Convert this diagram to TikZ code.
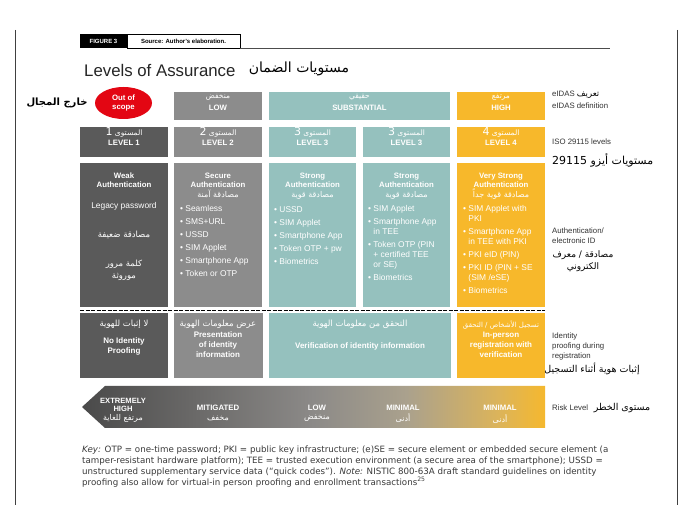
\documentclass[tikz,border=0pt]{standalone}
\usepackage{fontspec}
\setmainfont{Liberation Sans}
\newfontfamily\arf[Script=Arabic]{DejaVu Sans}
\newfontfamily\keyf{DejaVu Sans}
\TeXXeTstate=1
\usetikzlibrary{shapes.geometric}
\newcommand{\artx}[2][8]{{\arf\mdseries\fontsize{#1}{#1}\selectfont\beginR #2\endR}}
\newcommand{\artb}[2][8]{{\arf\bfseries\fontsize{#1}{#1}\selectfont\beginR #2\endR}}
\definecolor{cdark}{HTML}{5A5A5A}
\definecolor{cmid}{HTML}{8C8C8C}
\definecolor{cteal}{HTML}{95C1BE}
\definecolor{cgold}{HTML}{F7B82B}
\definecolor{cred}{HTML}{E30613}
\definecolor{labc}{HTML}{333333}
\definecolor{keyc}{HTML}{3A3A3A}
\definecolor{arl}{HTML}{4A4A4A}
\definecolor{arm}{HTML}{8C8A88}
\definecolor{art}{HTML}{AAA18D}
\definecolor{arg}{HTML}{DCB45A}
\definecolor{arr}{HTML}{F5B82E}
\pgfdeclarehorizontalshading{riskshade}{100bp}{color(0bp)=(arl); color(25bp)=(arl); color(50bp)=(arm); color(60bp)=(art); color(70bp)=(arg); color(75bp)=(arr); color(100bp)=(arr)}
\begin{document}
\begin{tikzpicture}[x=1pt,y=-1pt,
  cell/.style={anchor=north west, inner sep=0pt, outer sep=0pt, draw=none},
  wb/.style={text=white, font=\bfseries\fontsize{7.8}{9}\selectfont, align=center, inner sep=0pt},
  wh/.style={text=white, font=\bfseries\fontsize{7.8}{9}\selectfont, align=center, inner sep=0pt, anchor=north},
  wr/.style={text=white, font=\fontsize{8.4}{9.8}\selectfont, align=left, inner sep=0pt, anchor=north west},
  wa/.style={text=white, inner sep=0pt},
  lab/.style={text=labc, font=\fontsize{7.8}{9.5}\selectfont, align=left, inner sep=0pt, anchor=west},
  ara/.style={text=black, inner sep=0pt},
  border/.style={draw=black!75, line width=1pt}
]
\useasboundingbox (0,0) rectangle (689,505);
\fill[white] (0,0) rectangle (689,505);

% page border lines
\coordinate (bl1) at (15,30); \coordinate (bl2) at (15,505);
\coordinate (br1) at (677,30); \coordinate (br2) at (677,505);
\draw[border] (bl1) -- (bl2);
\draw[border] (br1) -- (br2);

% figure header
\node[cell, fill=black, minimum width=47pt, minimum height=14pt] (fig) at (80,34) {};
\node[text=white, font=\bfseries\fontsize{6}{7}\selectfont, inner sep=0pt] (figt) at (fig.center) {FIGURE 3};
\node[cell, draw=black, line width=0.6pt, fill=white, minimum width=113pt, minimum height=14pt] (src) at (127,34) {};
\node[text=black, font=\bfseries\fontsize{6}{7}\selectfont, inner sep=0pt] (srct) at (src.center) {Source: Author's elaboration.};
\coordinate (hl1) at (240,48.5); \coordinate (hl2) at (610,48.5);
\draw[black!70, line width=0.8pt] (hl1) -- (hl2);

% title
\node[anchor=west, inner sep=0pt, font=\fontsize{16.8}{18}\selectfont, text=black!85] (title) at (84,70) {Levels of Assurance};
\node[ara] (titlea) at (299,69) {\artx[14]{مستويات الضمان}};

% row 1: eIDAS
\node[ellipse, fill=cred, minimum width=57pt, minimum height=32pt, inner sep=0pt] (oos) at (123.5,103) {};
\node[wb] (oost) at (oos.center) {Out of\\scope};
\node[ara] (oosa) at (57,103) {\artb[10]{خارج المجال}};
\node[cell, fill=cmid, minimum width=88pt, minimum height=28pt] (low) at (174,92) {};
\node[cell, fill=cteal, minimum width=181pt, minimum height=28pt] (sub) at (269,92) {};
\node[cell, fill=cgold, minimum width=88pt, minimum height=28pt] (high) at (457,92) {};
\node[wa] (lowa) at (218,97) {\artx[7.5]{منخفض}};
\node[wb] (lowt) at (218,107.5) {LOW};
\node[wa] (suba) at (359.5,97) {\artx[7.5]{حقيقي}};
\node[wb] (subt) at (359.5,107.5) {SUBSTANTIAL};
\node[wa] (higha) at (501,97) {\artx[7.5]{مرتفع}};
\node[wb] (hight) at (501,107.5) {HIGH};

% row 2: ISO levels
\node[cell, fill=cdark, minimum width=88pt, minimum height=30pt] (l1) at (80,127) {};
\node[cell, fill=cmid, minimum width=88pt, minimum height=30pt] (l2) at (174,127) {};
\node[cell, fill=cteal, minimum width=87pt, minimum height=30pt] (l3a) at (269,127) {};
\node[cell, fill=cteal, minimum width=87pt, minimum height=30pt] (l3b) at (363,127) {};
\node[cell, fill=cgold, minimum width=88pt, minimum height=30pt] (l4) at (457,127) {};
\node[wa] (l1a) at (124,132.5) {\artx[7.5]{المستوى {\fontsize{11}{11}\selectfont 1}}};
\node[wb] (l1t) at (124,142.5) {LEVEL 1};
\node[wa] (l2a) at (218,132.5) {\artx[7.5]{المستوى {\fontsize{11}{11}\selectfont 2}}};
\node[wb] (l2t) at (218,142.5) {LEVEL 2};
\node[wa] (l3aa) at (312.5,132.5) {\artx[7.5]{المستوى {\fontsize{11}{11}\selectfont 3}}};
\node[wb] (l3at) at (312.5,142.5) {LEVEL 3};
\node[wa] (l3ba) at (406.5,132.5) {\artx[7.5]{المستوى {\fontsize{11}{11}\selectfont 3}}};
\node[wb] (l3bt) at (406.5,142.5) {LEVEL 3};
\node[wa] (l4a) at (501,132.5) {\artx[7.5]{المستوى {\fontsize{11}{11}\selectfont 4}}};
\node[wb] (l4t) at (501,142.5) {LEVEL 4};

% row 3: authentication
\node[cell, fill=cdark, minimum width=88pt, minimum height=144pt] (a1) at (80,163) {};
\node[cell, fill=cmid, minimum width=88pt, minimum height=144pt] (a2) at (174,163) {};
\node[cell, fill=cteal, minimum width=87pt, minimum height=144pt] (a3) at (269,163) {};
\node[cell, fill=cteal, minimum width=87pt, minimum height=144pt] (a4) at (363,163) {};
\node[cell, fill=cgold, minimum width=88pt, minimum height=144pt] (a5) at (457,163) {};

\node[wh] (a1h) at (124,172.5) {Weak\\Authentication};
\node[wa, font=\fontsize{8.4}{9.8}\selectfont] (a1t) at (124,206) {Legacy password};
\node[wa] (a1ar) at (124,235) {\artx[8.5]{مصادقة ضعيفة}};
\node[wa] (a1ar2) at (124,264) {\artx[8.5]{كلمة مرور}};
\node[wa] (a1ar3) at (124,277) {\artx[8.5]{موروثة}};

\node[wh] (a2h) at (218,172.5) {Secure\\Authentication};
\node[wa] (a2ar) at (218,194) {\artx[8]{مصادقة آمنة}};
\node[wr] (a2b) at (180,205.5) {• Seamless\\[3.2pt]• SMS+URL\\[3.2pt]• USSD\\[3.2pt]• SIM Applet\\[3.2pt]• Smartphone App\\[3.2pt]• Token or OTP};

\node[wh] (a3h) at (312.5,172.5) {Strong\\Authentication};
\node[wa] (a3ar) at (312.5,195) {\artx[8]{مصادقة قوية}};
\node[wr] (a3b) at (274,206.5) {• USSD\\[3.2pt]• SIM Applet\\[3.2pt]• Smartphone App\\[3.2pt]• Token OTP + pw\\[3.2pt]• Biometrics};

\node[wh] (a4h) at (406.5,172.5) {Strong\\Authentication};
\node[wa] (a4ar) at (406.5,195) {\artx[8]{مصادقة قوية}};
\node[wr] (a4b) at (368,205.5) {• SIM Applet\\[3.2pt]• Smartphone App\\\phantom{• }in TEE\\[3.2pt]• Token OTP (PIN\\\phantom{• }+ certified TEE\\\phantom{• }or SE)\\[3.2pt]• Biometrics};

\node[wh] (a5h) at (501,172.5) {Very Strong\\Authentication};
\node[wa] (a5ar) at (501,194.5) {\artx[8]{مصادقة قوية جداً}};
\node[wr] (a5b) at (463,205.5) {• SIM Applet with\\\phantom{• }PKI\\[3.2pt]• Smartphone App\\\phantom{• }in TEE with PKI\\[3.2pt]• PKI eID (PIN)\\[3.2pt]• PKI ID (PIN + SE\\\phantom{• }(SIM /eSE)\\[3.2pt]• Biometrics};

% dashed separator
\coordinate (dl) at (80,310.5); \coordinate (dr) at (545,310.5);
\draw[black, line width=1pt, dash pattern=on 4pt off 1.5pt] (dl) -- (dr);

% row 4: identity proofing
\node[cell, fill=cdark, minimum width=88pt, minimum height=65pt] (p1) at (80,313) {};
\node[cell, fill=cmid, minimum width=89pt, minimum height=65pt] (p2) at (174,313) {};
\node[cell, fill=cteal, minimum width=182pt, minimum height=65pt] (p3) at (269,313) {};
\node[cell, fill=cgold, minimum width=88pt, minimum height=65pt] (p5) at (457,313) {};
\node[wa] (p1a) at (124,324) {\artx[8.5]{لا إثبات للهوية}};
\node[wh, font=\bfseries\fontsize{8}{10}\selectfont] (p1t) at (124,338) {No Identity\\Proofing};
\node[wa] (p2a) at (218,324) {\artx[8.5]{عرض معلومات الهوية}};
\node[wh, font=\bfseries\fontsize{8}{10}\selectfont] (p2t) at (218,332) {Presentation\\of identity\\information};
\node[wa] (p3a) at (360,324) {\artx[8.5]{التحقق من معلومات الهوية}};
\node[wb, font=\bfseries\fontsize{8}{10}\selectfont] (p3t) at (360,346) {Verification of identity information};
\node[wa] (p5a) at (501,325) {\artx[7]{تسجيل الأشخاص / التحقق}};
\node[wh, font=\bfseries\fontsize{8}{10}\selectfont] (p5t) at (501,332) {In-person\\registration with\\verification};

% row 5: risk arrow
\coordinate (rt) at (82,407);
\coordinate (ra) at (105,386);
\coordinate (rb) at (545,386);
\coordinate (rc) at (545,428);
\coordinate (rd) at (105,428);
\shade[shading=riskshade] (rt) -- (ra) -- (rb) -- (rc) -- (rd) -- cycle;
\node[wh, font=\bfseries\fontsize{7.6}{8}\selectfont] (r1t) at (123,398.5) {EXTREMELY\\HIGH};
\node[wa] (r1a) at (123,418) {\artx[8]{مرتفع للغاية}};
\node[wb] (r2t) at (218,407.5) {MITIGATED};
\node[wa] (r2a) at (218,418.5) {\artx[8]{مخفف}};
\node[wb] (r3t) at (317,407.5) {LOW};
\node[wa] (r3a) at (317,418.5) {\artx[8]{منخفض}};
\node[wb] (r4t) at (403,407.5) {MINIMAL};
\node[wa] (r4a) at (403,418.5) {\artx[8]{أدنى}};
\node[wb] (r5t) at (500,407.5) {MINIMAL};
\node[wa] (r5a) at (500,419) {\artx[8]{أدنى}};

% right-hand labels
\node[lab] (e1) at (552,94.5) {eIDAS \artx[8.5]{\textcolor{black}{تعريف}}};
\node[lab] (e2) at (552,106) {eIDAS definition};
\node[lab] (e3) at (552,142) {ISO 29115 levels};
\node[ara, anchor=west] (e4) at (552,160) {\artx[11]{مستويات أيزو 29115}};
\node[lab] (e5) at (552,231) {Authentication/};
\node[lab] (e6) at (552,241) {electronic ID};
\node[ara] (e7) at (583,255) {\artx[9]{مصادقة / معرف}};
\node[ara] (e8) at (583,267) {\artx[9]{الكتروني}};
\node[lab] (e9) at (552,336) {Identity};
\node[lab] (e10) at (552,346) {proofing during};
\node[lab] (e11) at (552,356) {registration};
\node[ara] (e12) at (592,369) {\artx[9.5]{إثبات هوية أثناء التسجيل}};
\node[lab] (e13) at (552,408) {Risk Level};
\node[ara] (e14) at (622,408) {\artx[9.5]{مستوى الخطر}};

% key
\node[anchor=north west, inner sep=0pt, align=left, text=keyc, font=\keyf\fontsize{8.7}{11}\selectfont] (key) at (82,446) {\textit{Key:} OTP = one-time password; PKI = public key infrastructure; (e)SE = secure element or embedded secure element (a\\tamper-resistant hardware platform); TEE = trusted execution environment (a secure area of the smartphone); USSD =\\unstructured supplementary service data (“quick codes”). \textit{Note:} NISTIC 800-63A draft standard guidelines on identity\\proofing also allow for virtual-in person proofing and enrollment transactions\textsuperscript{25}};
\end{tikzpicture}
\end{document}
